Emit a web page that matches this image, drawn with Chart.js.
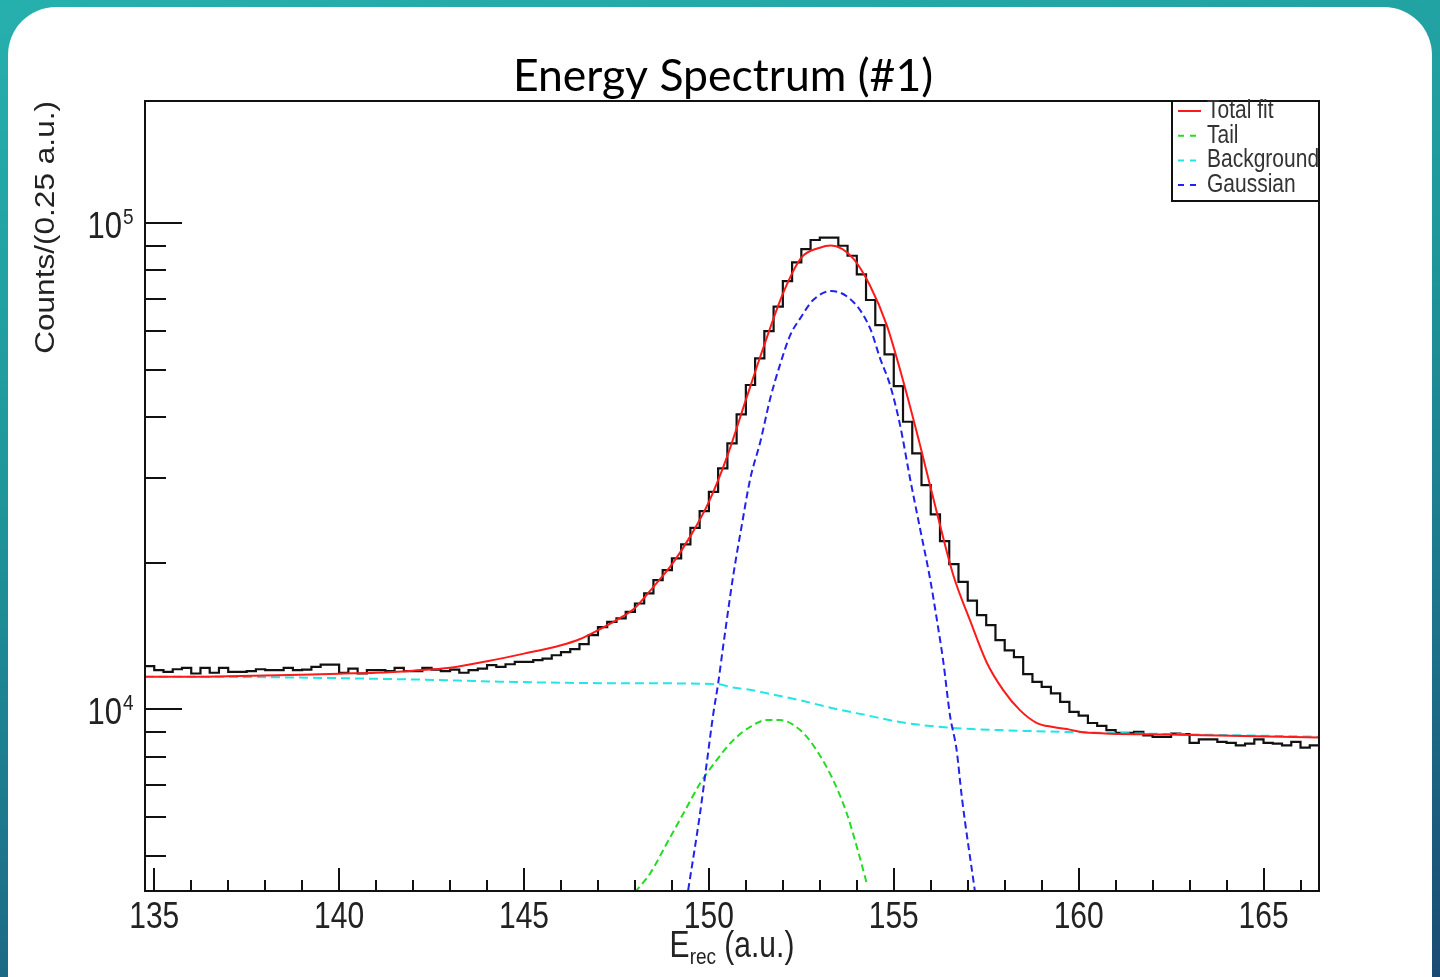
<!DOCTYPE html>
<html>
<head>
<meta charset="utf-8">
<title>Energy Spectrum (#1)</title>
<script src="https://cdn.jsdelivr.net/npm/chart.js@4.4.1/dist/chart.umd.min.js"></script>
<style>
  html, body { margin: 0; padding: 0; }
  body {
    width: 1440px; height: 977px; overflow: hidden; position: relative;
    background: linear-gradient(170deg, #26b0ad 0%, #1e979a 40%, #1c6f88 75%, #1a4a73 100%);
  }
  #panel {
    position: absolute; left: 8px; top: 7px; width: 1424px; height: 1030px;
    background: #fff; border-radius: 48px;
  }
  #chart { position: absolute; left: 0; top: 0; }
</style>
</head>
<body>
<div id="panel"></div>
<canvas id="chart" width="1440" height="977"></canvas>
<script>
// histogram: 127 bins of 0.25 a.u. starting at 134.75
const binStart = 134.75;
const binWidth = 0.25;
const counts = [
  12280, 12050, 11950, 12100, 12180, 11860, 12180, 11900, 12180, 11950,
  11950, 11990, 12100, 12050, 12050, 12180, 12050, 12080, 12240, 12370,
  12370, 11900, 12140, 11860, 12050, 12050, 11990, 12180, 11990, 11990,
  12180, 12080, 11990, 12080, 11900, 12050, 12140, 12340, 12240, 12390,
  12530, 12530, 12630, 12730, 12930, 13120, 13310, 13630, 14220, 14770,
  15150, 15390, 15880, 16520, 17330, 18450, 19350, 20450, 21850, 23640,
  25590, 28040, 31330, 35270, 40460, 46500, 52770, 60030, 67380, 76070,
  83140, 88540, 92410, 93420, 93420, 89930, 85770, 78560, 69550, 61760,
  53770, 46270, 39070, 33630, 28940, 25190, 22200, 19910, 18310, 16750,
  15630, 14910, 13890, 13230, 12810, 11820, 11400, 11130, 10790, 10370,
  9890, 9710, 9380, 9250, 9070, 8950, 8950, 8990, 8850, 8780,
  8780, 8920, 8900, 8540, 8680, 8680, 8580, 8540, 8440, 8510,
  8680, 8540, 8510, 8440, 8580, 8350, 8440
];

// fit curves (energy, value)
const fitE = [134.75, 136, 137, 138, 139, 140, 141, 142, 143, 144, 145, 146, 146.5, 147, 147.5, 148, 148.5, 149, 149.5, 150,
  150.5, 151, 151.5, 152, 152.5, 153, 153.3, 153.9, 154.35, 154.81, 155.26, 155.71, 156.16, 156.61, 157.06, 157.51,
  157.96, 158.41, 158.86, 159.31, 159.76, 160.12, 162.38, 166.5];
const fitVal = [11680, 11680, 11710, 11740, 11790, 11850, 11900, 12020, 12190, 12570, 13030, 13560, 13950, 14560, 15270, 16180, 17880, 19880, 22730, 26740,
  33250, 43350, 56260, 71630, 85000, 89100, 90000, 84720, 74650, 61760, 47220, 34990, 25510, 18890, 15270, 12510,
  10960, 9970, 9390, 9200, 9090, 8980, 8880, 8760];

const tailE = [148.0, 148.41, 148.86, 149.31, 149.76, 150.21, 150.66, 151.12, 151.56, 151.92, 152.47, 152.91, 153.36, 153.73, 154.0, 154.27];
const tailVal = [4210, 4600, 5300, 6110, 7040, 7870, 8650, 9210, 9510, 9510, 9070, 8250, 7160, 6110, 5220, 4390];

const bgE = [134.75, 136.24, 138.94, 142.19, 144.35, 147.05, 150.22, 150.65, 151.11, 151.57, 152.46, 153.35, 154.27, 155.17, 156.52, 157.87, 160.57, 163.28, 166.5];
const bgVal = [11680, 11680, 11630, 11520, 11410, 11330, 11280, 11100, 10980, 10800, 10450, 10060, 9730, 9420, 9170, 9070, 8960, 8880, 8790];

const gausE = [149.44, 149.76, 149.94, 150.12, 150.25, 150.39, 150.66, 150.89, 151.12, 151.39, 151.66, 151.92, 152.2, 152.47, 152.82,
  153.31, 153.9, 154.36, 154.63, 154.9, 155.17, 155.44, 155.71, 155.98, 156.16, 156.34, 156.52, 156.7, 156.84, 157.19];
const gausVal = [4250, 6110, 7740, 9810, 11310, 13560, 18890, 23940, 29870, 35520, 43650, 51100, 58900, 63760, 69550,
  72550, 68990, 60810, 52770, 46500, 38460, 29870, 23570, 18600, 15390, 12530, 9730, 8250, 6610, 4250];

// axes
const xMin = 134.75, xMax = 166.5;
const yMin = 4233, yMax = 178500;
const xMajorTicks = [135, 140, 145, 150, 155, 160, 165];
const xMinorTicks = [136, 137, 138, 139, 141, 142, 143, 144, 146, 147, 148, 149, 151, 152, 153, 154, 156, 157, 158, 159, 161, 162, 163, 164, 166];
const yMajorTicks = [10000, 100000];
const yMajorExp = ['4', '5'];
const yMinorTicks = [5000, 6000, 7000, 8000, 9000, 20000, 30000, 40000, 50000, 60000, 70000, 80000, 90000];

const chartTitle = 'Energy Spectrum (#1)';
const yTitle = 'Counts/(0.25 a.u.)';

function pairs(xs, ys) {
  return xs.map((v, i) => ({ x: v, y: ys[i] }));
}

const histData = counts.map((c, i) => ({ x: binStart + i * binWidth, y: c }));
histData.push({ x: binStart + counts.length * binWidth, y: counts[counts.length - 1] });

const FONT = '"Liberation Sans", Arial, Helvetica, sans-serif';
const STRETCH = 1.2;

function stretchedText(ctx, text, x, y, sx, sy) {
  ctx.save();
  ctx.translate(x, y);
  ctx.scale(sx, sy);
  ctx.fillText(text, 0, 0);
  ctx.restore();
}

const rootStyle = {
  id: 'rootStyle',
  afterDatasetsDraw(chart) {
    const { ctx, chartArea: a, scales: { x, y } } = chart;
    ctx.save();

    // frame
    ctx.strokeStyle = '#111';
    ctx.lineWidth = 2;
    ctx.strokeRect(a.left, a.top, a.right - a.left, a.bottom - a.top);

    // ticks, drawn inwards like ROOT
    ctx.beginPath();
    xMajorTicks.forEach(v => {
      const px = Math.round(x.getPixelForValue(v));
      ctx.moveTo(px, a.bottom); ctx.lineTo(px, a.bottom - 23);
    });
    xMinorTicks.forEach(v => {
      const px = Math.round(x.getPixelForValue(v));
      ctx.moveTo(px, a.bottom); ctx.lineTo(px, a.bottom - 11);
    });
    yMajorTicks.forEach(v => {
      const py = Math.round(y.getPixelForValue(v));
      ctx.moveTo(a.left, py); ctx.lineTo(a.left + 37, py);
    });
    yMinorTicks.forEach(v => {
      const py = Math.round(y.getPixelForValue(v));
      ctx.moveTo(a.left, py); ctx.lineTo(a.left + 21, py);
    });
    ctx.stroke();

    // x tick labels
    ctx.fillStyle = '#222';
    ctx.textAlign = 'center';
    ctx.textBaseline = 'alphabetic';
    ctx.font = '30px ' + FONT;
    xMajorTicks.forEach(v => {
      stretchedText(ctx, String(v), x.getPixelForValue(v), a.bottom + 37, 1, STRETCH);
    });

    // y tick labels 10^n
    yMajorTicks.forEach((v, i) => {
      const py = y.getPixelForValue(v);
      ctx.textAlign = 'right';
      ctx.font = '31px ' + FONT;
      stretchedText(ctx, '10', a.left - 23, py + 15, 1, STRETCH);
      ctx.textAlign = 'left';
      ctx.font = '19px ' + FONT;
      stretchedText(ctx, yMajorExp[i], a.left - 22, py + 1, 1, STRETCH);
    });

    // x axis title E_rec (a.u.)
    const cx = (a.left + a.right) / 2;
    const base = a.bottom + 66;
    ctx.font = '30px ' + FONT;
    const wE = ctx.measureText('E').width;
    const wRest = ctx.measureText(' (a.u.)').width;
    ctx.font = '19px ' + FONT;
    const wSub = ctx.measureText('rec').width;
    let tx = cx - (wE + wSub + wRest) / 2;
    ctx.textAlign = 'left';
    ctx.font = '30px ' + FONT;
    stretchedText(ctx, 'E', tx, base, 1, STRETCH);
    tx += wE;
    ctx.font = '19px ' + FONT;
    stretchedText(ctx, 'rec', tx, base + 7, 1, STRETCH);
    tx += wSub;
    ctx.font = '30px ' + FONT;
    stretchedText(ctx, ' (a.u.)', tx, base, 1, STRETCH);

    // y axis title, aligned to the top of the frame
    ctx.save();
    ctx.translate(54, a.top);
    ctx.rotate(-Math.PI / 2);
    ctx.scale(1.17, 1);
    ctx.font = '27px ' + FONT;
    ctx.textAlign = 'right';
    ctx.textBaseline = 'alphabetic';
    ctx.fillText(yTitle, 0, 0);
    ctx.restore();

    // legend box in the top right corner
    const lx = a.right - 147, ly = a.top, lw = 147, lh = 100;
    ctx.fillStyle = '#fff';
    ctx.fillRect(lx, ly, lw, lh);
    ctx.lineWidth = 2;
    ctx.strokeStyle = '#111';
    ctx.strokeRect(lx, ly, lw, lh);
    const entries = chart.data.datasets.filter(d => d.inLegend);
    entries.forEach((d, i) => {
      const ry = ly + 10 + i * 24.7;
      ctx.save();
      ctx.strokeStyle = d.borderColor;
      ctx.lineWidth = 2;
      ctx.setLineDash(d.borderDash && d.borderDash.length ? [6, 6] : []);
      ctx.beginPath();
      ctx.moveTo(lx + 6, ry); ctx.lineTo(lx + 29, ry);
      ctx.stroke();
      ctx.restore();
      ctx.fillStyle = '#333';
      ctx.font = '21px ' + FONT;
      ctx.textAlign = 'left';
      ctx.textBaseline = 'middle';
      stretchedText(ctx, d.label, lx + 35, ry, 1, STRETCH);
    });

    // title
    ctx.fillStyle = '#000';
    ctx.font = '44.5px Lato, "Open Sans", sans-serif';
    ctx.textAlign = 'center';
    ctx.textBaseline = 'alphabetic';
    ctx.fillText(chartTitle, 723, 91);

    ctx.restore();
  }
};

const ctx = document.getElementById('chart').getContext('2d');
const chart = new Chart(ctx, {
  type: 'line',
  data: {
    datasets: [{
      label: 'Data',
      data: histData,
      borderColor: '#111',
      borderWidth: 2.2,
      stepped: 'before',
      pointRadius: 0,
      fill: false,
      clip: 0,
      order: 5
    }, {
      label: 'Total fit',
      inLegend: true,
      data: pairs(fitE, fitVal),
      borderColor: '#ff1a1a',
      borderWidth: 2,
      cubicInterpolationMode: 'monotone',
      pointRadius: 0,
      fill: false,
      clip: 0,
      order: 1
    }, {
      label: 'Tail',
      inLegend: true,
      data: pairs(tailE, tailVal),
      borderColor: '#22dd22',
      borderWidth: 2,
      borderDash: [7, 4],
      cubicInterpolationMode: 'monotone',
      pointRadius: 0,
      fill: false,
      clip: 0,
      order: 3
    }, {
      label: 'Background',
      inLegend: true,
      data: pairs(bgE, bgVal),
      borderColor: '#22e6e6',
      borderWidth: 2,
      borderDash: [9, 5],
      cubicInterpolationMode: 'monotone',
      pointRadius: 0,
      fill: false,
      clip: 0,
      order: 4
    }, {
      label: 'Gaussian',
      inLegend: true,
      data: pairs(gausE, gausVal),
      borderColor: '#2222ee',
      borderWidth: 2,
      borderDash: [7, 4],
      cubicInterpolationMode: 'monotone',
      pointRadius: 0,
      fill: false,
      clip: 0,
      order: 2
    }]
  },
  options: {
    responsive: false,
    animation: false,
    devicePixelRatio: 1,
    layout: { padding: { left: 145, top: 101, right: 121, bottom: 86 } },
    plugins: {
      legend: { display: false },
      tooltip: { enabled: false },
      title: { display: false }
    },
    scales: {
      x: { type: 'linear', min: xMin, max: xMax, display: false },
      y: { type: 'logarithmic', min: yMin, max: yMax, display: false }
    }
  },
  plugins: [rootStyle]
});
</script>
</body>
</html>
